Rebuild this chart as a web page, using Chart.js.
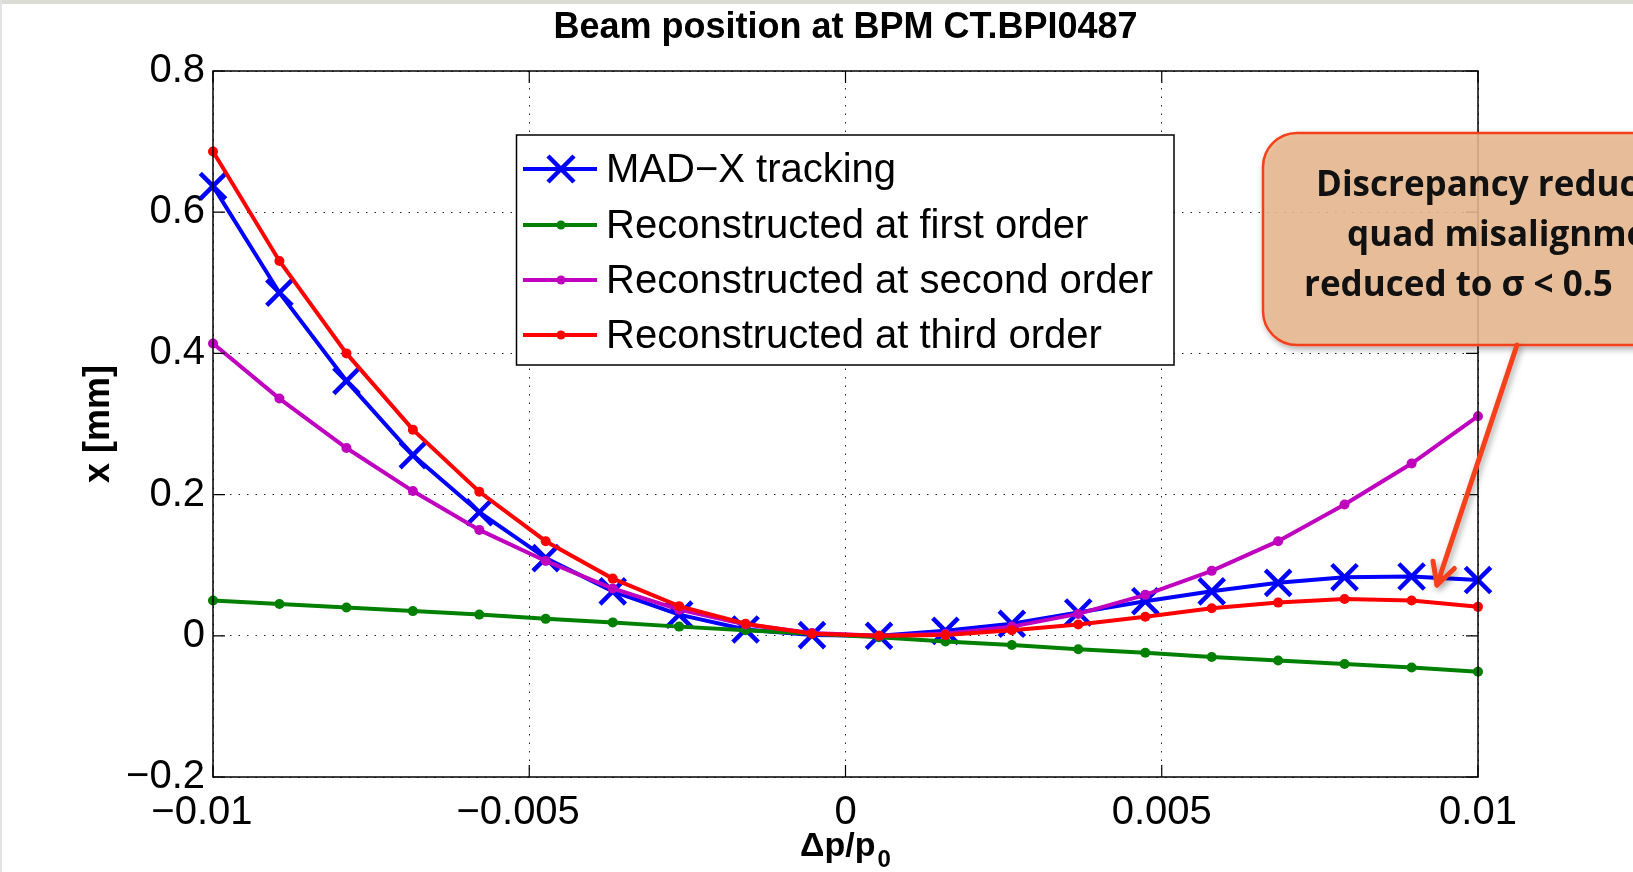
<!DOCTYPE html>
<html>
<head>
<meta charset="utf-8">
<script src="https://cdn.jsdelivr.net/npm/chart.js@4.4.0/dist/chart.umd.min.js"></script>
<style>
  html, body { margin: 0; padding: 0; background: #fff; overflow: hidden; }
  #wrap { position: relative; width: 1633px; height: 872px; overflow: hidden; }
  #chart { position: absolute; left: 0; top: 0; }
  #topband { position: absolute; left: 0; top: 0; width: 1633px; height: 4px; background: #dcdcd7; }
  #leftline { position: absolute; left: 0; top: 0; width: 2px; height: 872px; background: #e2e2e2; }
  #note { position: absolute; left: 0; top: 0; }
</style>
</head>
<body>
<div id="wrap">
  <canvas id="chart" width="1633" height="872"></canvas>
  <div id="topband"></div>
  <div id="leftline"></div>
  <svg id="note" width="1633" height="872" xmlns="http://www.w3.org/2000/svg">
    <defs>
      <filter id="sh" x="-10%" y="-10%" width="130%" height="140%">
        <feDropShadow dx="2" dy="3" stdDeviation="3" flood-color="#000" flood-opacity="0.35"/>
      </filter>
    </defs>
    <rect x="1263" y="133" width="520" height="212" rx="34" ry="34"
          fill="rgb(233,186,143)" fill-opacity="0.85" stroke="#f5401e" stroke-width="2.5" filter="url(#sh)"/>
    <g font-family="'Open Sans', sans-serif" font-weight="700" font-size="35" fill="#111">
      <text x="1316" y="196">Discrepancy reduced</text>
      <text x="1347" y="246">quad misalignments</text>
      <text x="1304" y="296">reduced to σ &lt; 0.5</text>
    </g>
    <g id="arrow" stroke="#f5401e" stroke-width="5" fill="none" stroke-linecap="round" stroke-linejoin="round" filter="url(#sh)"></g>
  </svg>
</div>
<script>
// Δp/p0 sample points
const deltaP = [-0.01, -0.00895, -0.00789, -0.00684, -0.00579, -0.00474, -0.00368, -0.00263, -0.00158, -0.00053,
                0.00053, 0.00158, 0.00263, 0.00368, 0.00474, 0.00579, 0.00684, 0.00789, 0.00895, 0.01];

// x [mm]
const madx   = [0.637, 0.486, 0.361, 0.256, 0.175, 0.110, 0.063, 0.030, 0.009, 0.001,
                0.000, 0.007, 0.017, 0.033, 0.049, 0.063, 0.075, 0.083, 0.084, 0.079];
const first  = [0.050, 0.045, 0.040, 0.035, 0.030, 0.024, 0.019, 0.013, 0.008, 0.003,
                -0.002, -0.008, -0.013, -0.019, -0.024, -0.030, -0.035, -0.040, -0.045, -0.051];
const second = [0.414, 0.336, 0.266, 0.205, 0.150, 0.106, 0.067, 0.037, 0.016, 0.004,
                0.000, 0.003, 0.013, 0.031, 0.058, 0.092, 0.134, 0.186, 0.244, 0.311];
const third  = [0.686, 0.531, 0.400, 0.292, 0.204, 0.134, 0.081, 0.042, 0.017, 0.003,
                0.000, 0.001, 0.008, 0.016, 0.027, 0.039, 0.047, 0.052, 0.050, 0.041];

const xTicks = [-0.01, -0.005, 0, 0.005, 0.01];
const yTicks = [-0.2, 0, 0.2, 0.4, 0.6, 0.8];

const FONT = "'Liberation Sans', Arial, Helvetica, sans-serif";

const pts = arr => arr.map((v, i) => ({ x: deltaP[i], y: v }));

const lineSet = (label, vals, color, order) => ({
  label: label,
  data: pts(vals),
  borderColor: color,
  backgroundColor: color,
  borderWidth: 4,
  pointStyle: 'circle',
  pointRadius: 5,
  pointBorderWidth: 0,
  pointBackgroundColor: color,
  tension: 0,
  clip: false,
  order: order
});

// legend, frame, inner ticks, titles
const decor = {
  id: 'decor',
  afterDatasetsDraw(chart) {
    const { ctx, chartArea: a, scales: { x, y } } = chart;
    ctx.save();
    ctx.strokeStyle = '#000';
    ctx.lineWidth = 1.5;
    ctx.strokeRect(a.left, a.top, a.right - a.left, a.bottom - a.top);
    ctx.lineWidth = 1.2;
    ctx.beginPath();
    xTicks.forEach(v => {
      const px = x.getPixelForValue(v);
      ctx.moveTo(px, a.bottom); ctx.lineTo(px, a.bottom - 12);
      ctx.moveTo(px, a.top); ctx.lineTo(px, a.top + 12);
    });
    yTicks.forEach(v => {
      const py = y.getPixelForValue(v);
      ctx.moveTo(a.left, py); ctx.lineTo(a.left + 12, py);
      ctx.moveTo(a.right, py); ctx.lineTo(a.right - 12, py);
    });
    ctx.stroke();

    // legend box
    const L = 516.5, T = 135, R = 1174, B = 365;
    ctx.fillStyle = '#fff';
    ctx.fillRect(L, T, R - L, B - T);
    ctx.lineWidth = 1.5;
    ctx.strokeStyle = '#000';
    ctx.strokeRect(L, T, R - L, B - T);
    const rows = [169, 225, 280, 335];
    chart.data.datasets.forEach((ds, k) => {
      const ry = rows[k];
      ctx.strokeStyle = ds.borderColor;
      ctx.fillStyle = ds.borderColor;
      ctx.lineWidth = 4;
      ctx.beginPath();
      ctx.moveTo(523, ry); ctx.lineTo(597, ry);
      ctx.stroke();
      if (ds.pointStyle === 'crossRot') {
        const r = 13;
        ctx.lineWidth = 4.5;
        ctx.beginPath();
        ctx.moveTo(561 - r, ry - r); ctx.lineTo(561 + r, ry + r);
        ctx.moveTo(561 - r, ry + r); ctx.lineTo(561 + r, ry - r);
        ctx.stroke();
      } else {
        ctx.beginPath();
        ctx.arc(561, ry, 4.5, 0, Math.PI * 2);
        ctx.fill();
      }
      ctx.fillStyle = '#000';
      ctx.font = '40px ' + FONT;
      ctx.textAlign = 'left';
      ctx.textBaseline = 'middle';
      ctx.fillText(ds.label, 606, ry + 2);
    });
    ctx.restore();
  },
  afterDraw(chart) {
    const { ctx, chartArea: a } = chart;
    ctx.save();
    ctx.fillStyle = '#000';
    // title
    ctx.font = 'bold 36px ' + FONT;
    ctx.textAlign = 'center';
    ctx.textBaseline = 'alphabetic';
    ctx.fillText('Beam position at BPM CT.BPI0487', (a.left + a.right) / 2, 38);
    // y title
    ctx.save();
    ctx.translate(99, (a.top + a.bottom) / 2);
    ctx.rotate(-Math.PI / 2);
    ctx.font = 'bold 36px ' + FONT;
    ctx.textBaseline = 'middle';
    ctx.fillText('x [mm]', 0, 0);
    ctx.restore();
    // x title with subscript
    ctx.textAlign = 'left';
    ctx.font = 'bold 34px ' + FONT;
    const main = 'Δp/p';
    const w = ctx.measureText(main).width;
    ctx.font = 'bold 24px ' + FONT;
    const ws = ctx.measureText('0').width;
    const x0 = (a.left + a.right) / 2 - (w + ws + 2) / 2;
    ctx.font = 'bold 34px ' + FONT;
    ctx.fillText(main, x0, 856);
    ctx.font = 'bold 24px ' + FONT;
    ctx.fillText('0', x0 + w + 2, 867);
    ctx.restore();
  }
};

const gridOpts = { color: '#222', lineWidth: 1, drawTicks: false };
const borderOpts = { display: false, dash: [1.5, 7] };

new Chart(document.getElementById('chart'), {
  type: 'line',
  data: {
    datasets: [
      Object.assign(lineSet('MAD\u2212X tracking', madx, '#0000ff', 4), {
        pointStyle: 'crossRot', pointRadius: 18, pointBorderWidth: 4.5, pointBorderColor: '#0000ff'
      }),
      lineSet('Reconstructed at first order', first, '#008000', 3),
      lineSet('Reconstructed at second order', second, '#bf00bf', 2),
      lineSet('Reconstructed at third order', third, '#ff0000', 1)
    ]
  },
  options: {
    responsive: false,
    animation: false,
    devicePixelRatio: 1,
    layout: { padding: { left: 0, right: 155, top: 71, bottom: 0 } },
    plugins: { legend: { display: false }, tooltip: { enabled: false }, title: { display: false } },
    scales: {
      x: {
        type: 'linear',
        min: -0.01,
        max: 0.01,
        afterBuildTicks: s => { s.ticks = xTicks.map(v => ({ value: v })); },
        afterFit: s => { s.height = 95; },
        grid: gridOpts,
        border: borderOpts,
        ticks: {
          color: '#000',
          padding: 12,
          maxRotation: 0,
          autoSkip: false,
          font: { family: FONT, size: 40 },
          callback: v => {
            if (Math.abs(v) < 1e-9) return '0';
            const s = String(Math.abs(v));
            return v < 0 ? '\u2212' + s + '  ' : s;
          }
        }
      },
      y: {
        min: -0.2,
        max: 0.8,
        afterBuildTicks: s => { s.ticks = yTicks.map(v => ({ value: v })); },
        afterFit: s => { s.width = 213; },
        grid: gridOpts,
        border: borderOpts,
        ticks: {
          color: '#000',
          padding: 8,
          autoSkip: false,
          font: { family: FONT, size: 40 },
          callback: v => {
            const r = Math.round(v * 10) / 10;
            if (r === 0) return '0';
            return r < 0 ? '\u2212' + Math.abs(r) : String(r);
          }
        }
      }
    }
  },
  plugins: [decor]
});

// annotation arrow
(function () {
  const sx = 1517, sy = 345, tx = 1437, ty = 585;
  const len = Math.hypot(tx - sx, ty - sy);
  const bx = (sx - tx) / len, by = (sy - ty) / len;
  const th = 28 * Math.PI / 180, L = 24;
  const arm = s => {
    const c = Math.cos(s * th), n = Math.sin(s * th);
    return [tx + L * (bx * c - by * n), ty + L * (bx * n + by * c)];
  };
  const a1 = arm(1), a2 = arm(-1);
  const g = document.getElementById('arrow');
  g.innerHTML =
    '<line x1="' + sx + '" y1="' + sy + '" x2="' + tx + '" y2="' + ty + '"/>' +
    '<polyline points="' + a1[0] + ',' + a1[1] + ' ' + tx + ',' + ty + ' ' + a2[0] + ',' + a2[1] + '"/>';
})();
</script>
</body>
</html>
